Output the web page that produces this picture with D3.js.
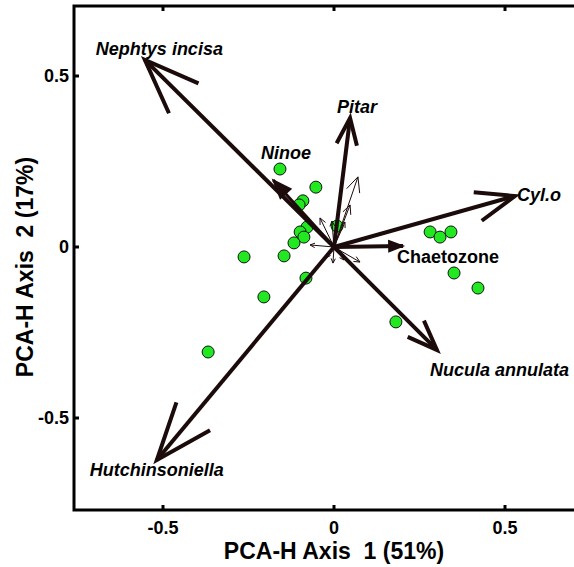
<!DOCTYPE html>
<html>
<head>
<meta charset="utf-8">
<script src="https://cdn.jsdelivr.net/npm/d3@7"></script>
<style>
  html, body { margin: 0; padding: 0; background: #fff; }
  svg { display: block; }
  text { font-family: "Liberation Sans", Arial, sans-serif; font-weight: bold; }
</style>
</head>
<body>
<svg id="chart" width="574" height="567"></svg>
<script>
// ---- data ----
const siteX = [-0.158, -0.053, -0.091, -0.102, -0.079, -0.099, -0.088, -0.117, -0.146, -0.082,
               0.009, 0.281, 0.310, 0.342, 0.351, 0.421, 0.181, -0.263, -0.205, -0.368];
const siteY = [0.228, 0.175, 0.135, 0.123, 0.058, 0.044, 0.029, 0.012, -0.026, -0.091,
               0.061, 0.044, 0.029, 0.044, -0.076, -0.120, -0.219, -0.029, -0.146, -0.307];

const speciesNames = ["Nephtys incisa", "Pitar", "Cyl.o", "Chaetozone", "Nucula annulata", "Hutchinsoniella", "Ninoe"];
const speciesX = [-0.553, 0.047, 0.529, 0.202, 0.301, -0.518, -0.178];
const speciesY = [0.547, 0.377, 0.149, 0.003, -0.301, -0.623, 0.196];

// minor (unlabelled) species vectors
const minorX = [0.070, 0.047, 0.032, -0.070, -0.041, -0.006, -0.003, 0.076, 0.029, -0.023];
const minorY = [0.205, 0.123, 0.073, 0.006, 0.085, 0.076, -0.047, -0.044, -0.038, -0.032];

const xTicks = [-0.5, 0, 0.5];
const yTicks = [-0.5, 0, 0.5];
const xTickLabels = ["-0.5", "0", "0.5"];
const yTickLabels = ["-0.5", "0", "0.5"];
const xTitle = "PCA-H Axis  1 (51%)";
const yTitle = "PCA-H Axis  2 (17%)";

// ---- drawing ----
const svg = d3.select("#chart");
const x = d3.scaleLinear().domain([-0.5, 0.5]).range([163, 505]);
const y = d3.scaleLinear().domain([-0.5, 0.5]).range([418, 76]);

const frameLeft = 74, frameBottom = 510, frameTop = 6, frameRight = 620;
const ink = "#1c0b0b";

// frame
svg.append("path")
  .attr("d", `M${frameRight},${frameTop} L${frameLeft},${frameTop} L${frameLeft},${frameBottom} L${frameRight},${frameBottom}`)
  .attr("fill", "none").attr("stroke", "#000").attr("stroke-width", 3);

// ticks (inward)
const tk = 5;
xTicks.forEach((v, i) => {
  svg.append("line").attr("x1", x(v)).attr("x2", x(v)).attr("y1", frameBottom).attr("y2", frameBottom - tk)
    .attr("stroke", "#000").attr("stroke-width", 3);
  svg.append("line").attr("x1", x(v)).attr("x2", x(v)).attr("y1", frameTop).attr("y2", frameTop + tk)
    .attr("stroke", "#000").attr("stroke-width", 3);
  svg.append("text").attr("x", x(v)).attr("y", 534).attr("text-anchor", "middle")
    .attr("font-size", 18).text(xTickLabels[i]);
});
yTicks.forEach((v, i) => {
  svg.append("line").attr("x1", frameLeft).attr("x2", frameLeft + tk).attr("y1", y(v)).attr("y2", y(v))
    .attr("stroke", "#000").attr("stroke-width", 3);
  svg.append("text").attr("x", 69).attr("y", y(v)).attr("dy", "0.35em").attr("text-anchor", "end")
    .attr("font-size", 18).text(yTickLabels[i]);
});

// axis titles
svg.append("text").attr("x", 334).attr("y", 559).attr("text-anchor", "middle")
  .attr("font-size", 23).style("white-space", "pre").text(xTitle);
svg.append("text").attr("transform", "translate(33,267) rotate(-90)").attr("text-anchor", "middle")
  .attr("font-size", 23).style("white-space", "pre").text(yTitle);

// sites
svg.append("g").selectAll("circle").data(siteX.map((d, i) => [d, siteY[i]])).join("circle")
  .attr("cx", d => x(d[0])).attr("cy", d => y(d[1])).attr("r", 6)
  .attr("fill", "#22e822").attr("stroke", "#111").attr("stroke-width", 1);

// arrows
function arrow(g, vx, vy, width, angleDeg) {
  const ox = x(0), oy = y(0), tx = x(vx), ty = y(vy);
  const dx = ox - tx, dy = oy - ty, L = Math.hypot(dx, dy);
  const ux = dx / L, uy = dy / L;
  const b = Math.max(5, 0.22 * L);
  const a = angleDeg * Math.PI / 180;
  const rot = (s) => [ux * Math.cos(s) - uy * Math.sin(s), ux * Math.sin(s) + uy * Math.cos(s)];
  const r1 = rot(a), r2 = rot(-a);
  const filled = width >= 3 && b < 25;
  g.append("line").attr("x1", ox).attr("y1", oy).attr("x2", tx).attr("y2", ty)
    .attr("stroke", ink).attr("stroke-width", width);
  g.append("path")
    .attr("d", `M${tx + r1[0] * b},${ty + r1[1] * b} L${tx},${ty} L${tx + r2[0] * b},${ty + r2[1] * b}` + (filled ? "Z" : ""))
    .attr("fill", filled ? ink : "none").attr("stroke", ink).attr("stroke-width", filled ? 1.5 : width)
    .attr("stroke-linejoin", "miter").attr("stroke-miterlimit", 10);
}
const ga = svg.append("g");
minorX.forEach((v, i) => arrow(ga, v, minorY[i], 1, 25));
speciesNames.forEach((n, i) => {
  const w = n === "Ninoe" ? 3 : 4;
  arrow(ga, speciesX[i], speciesY[i], w, 21);
});

// labels (positioned relative to arrow tips)
const labelOffset = {
  "Nephtys incisa": [-49, -5, true],
  "Pitar": [-13, -5, true],
  "Cyl.o": [2, 5, true],
  "Chaetozone": [-6, 17, false],
  "Nucula annulata": [-7, 26, true],
  "Hutchinsoniella": [-67, 16, true],
  "Ninoe": [-12, -21, true]
};
speciesNames.forEach((n, i) => {
  const o = labelOffset[n];
  svg.append("text").attr("x", x(speciesX[i]) + o[0]).attr("y", y(speciesY[i]) + o[1])
    .attr("font-size", 18).attr("font-style", o[2] ? "italic" : "normal").text(n);
});
</script>
</body>
</html>
